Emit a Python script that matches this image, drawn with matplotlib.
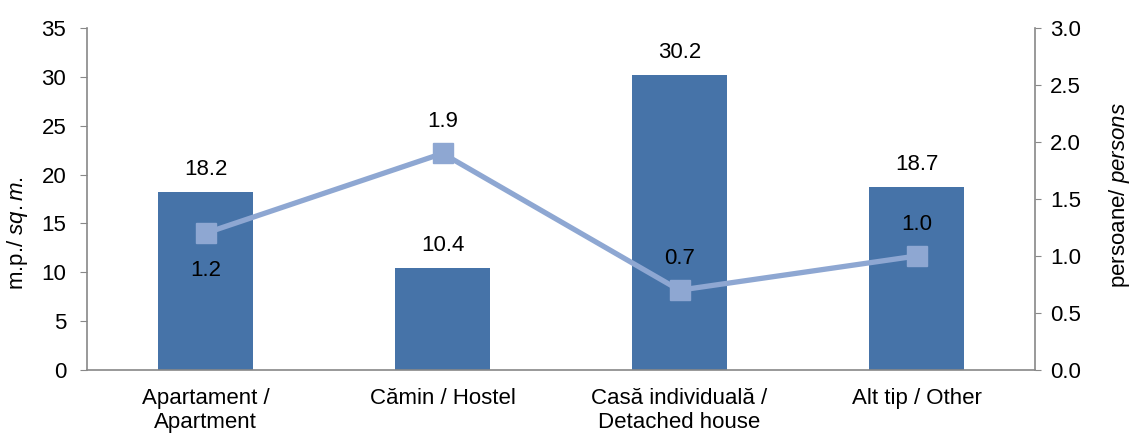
import matplotlib
matplotlib.use("Agg")
import matplotlib.pyplot as plt
import numpy as np

plt.rcParams['font.family'] = ['Liberation Sans', 'DejaVu Sans']
plt.rcParams['mathtext.fontset'] = 'custom'
plt.rcParams['mathtext.rm'] = 'Liberation Sans'
plt.rcParams['mathtext.it'] = 'Liberation Sans:italic'

categories = ["Apartament /\nApartment", "Cămin / Hostel", "Casă individuală /\nDetached house", "Alt tip / Other"]
area = [18.2, 10.4, 30.2, 18.7]
persons = [1.2, 1.9, 0.7, 1.0]
left_ticks = [0, 5, 10, 15, 20, 25, 30, 35]
right_ticks = [0.0, 0.5, 1.0, 1.5, 2.0, 2.5, 3.0]

bar_color = '#4673A8'
line_color = '#8EA7D2'
spine_color = '#888888'
FS = 16

W, H = 1131, 437
fig = plt.figure(figsize=(W / 100, H / 100), dpi=100)
ax = fig.add_axes([87 / W, (H - 370) / H, (1035 - 87) / W, (370 - 28) / H])
x = np.arange(len(categories))
ax.bar(x, area, width=0.4, color=bar_color, zorder=2)
ax.set_xlim(-0.5, len(categories) - 0.5)
ax.set_ylim(0, 35)
ax.set_yticks(left_ticks)
ax.set_xticks(x)
ax.set_xticklabels(categories, fontsize=FS, linespacing=1.2)
ax.tick_params(axis='x', length=0, pad=13)
ax.tick_params(axis='y', labelsize=FS, length=5, color=spine_color, pad=10)
for s in ['top', 'right']:
    ax.spines[s].set_visible(False)
for s in ['left', 'bottom']:
    ax.spines[s].set_color(spine_color)
    ax.spines[s].set_linewidth(1.2)
for xi, v in zip(x, area):
    ax.annotate(f"{v:.1f}", (xi, v), xytext=(0, 12.5), textcoords='offset points',
                ha='center', va='baseline', fontsize=FS)

ax2 = ax.twinx()
ax2.set_ylim(0, 3.0)
ax2.set_yticks(right_ticks)
ax2.set_yticklabels([f"{t:.1f}" for t in right_ticks])
ax2.plot(x, persons, color=line_color, lw=3.8, marker='s', markersize=14, zorder=3)
ax2.tick_params(axis='y', labelsize=FS, length=4, color=spine_color, pad=7)
for s in ['top', 'left', 'bottom']:
    ax2.spines[s].set_visible(False)
ax2.spines['right'].set_color(spine_color)
ax2.spines['right'].set_linewidth(1.2)
offsets = [-31, 18.7, 18.7, 18.7]
for xi, v, o in zip(x, persons, offsets):
    ax2.annotate(f"{v:.1f}", (xi, v), xytext=(0, o), textcoords='offset points',
                 ha='center', va='baseline', fontsize=FS)

fig.text(18 / W, 1 - 233 / H, r"m.p./ $\it{sq.m.}$", rotation=90, ha='center', va='center', fontsize=FS)
fig.text(1120 / W, 1 - 195 / H, r"persoane/ $\it{persons}$", rotation=90, ha='center', va='center', fontsize=FS)

fig.savefig("out.png", dpi=100)
